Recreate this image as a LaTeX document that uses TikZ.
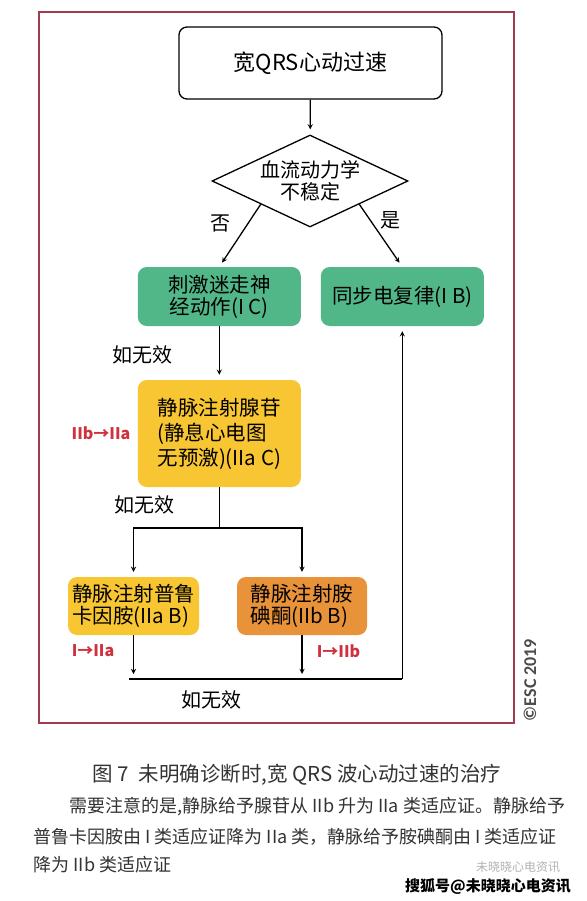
\documentclass[tikz,border=0pt]{standalone}
\usepackage{fontspec}
\setmainfont{Noto Sans CJK SC}
\newfontfamily\escfont{Carlito}
\usetikzlibrary{shapes.geometric, arrows}

\definecolor{vagalgreen}{RGB}{82,183,136}
\definecolor{drugyellow}{RGB}{248,198,50}
\definecolor{drugorange}{RGB}{232,146,58}
\definecolor{classred}{RGB}{208,49,63}
\definecolor{framered}{RGB}{162,59,78}

\begin{document}
\begin{tikzpicture}[x=1pt,y=-1pt]
        \tikzstyle{start} = [rectangle, rounded corners=8pt, minimum width=263pt, minimum height=72pt, text centered, draw=black, line width=1.3pt, font=\fontsize{22}{24}\selectfont];
        \tikzstyle{decision} = [diamond, aspect=2.1, minimum width=196pt, minimum height=92pt, inner sep=0pt, align=center, draw=black, line width=1.3pt, font=\fontsize{20}{22}\selectfont];
        \tikzstyle{vagal} = [rectangle, rounded corners=9pt, minimum width=163pt, minimum height=59pt, inner sep=0pt, align=center, fill=vagalgreen, font=\fontsize{20.5}{22}\selectfont];
        \tikzstyle{drug} = [rectangle, rounded corners=9pt, minimum height=58pt, inner sep=0pt, align=left, fill=drugyellow, font=\fontsize{20.5}{22}\selectfont];
        \tikzstyle{label} = [font=\fontsize{20}{22}\selectfont];
        \tikzstyle{classchange} = [text=classred, font=\bfseries\fontsize{16}{18}\selectfont];
        \tikzstyle{arrow} = [line width=1.3pt,->,>=stealth, shorten >=5pt];
        \tikzstyle{line} = [line width=1.3pt];

        \useasboundingbox (0,0) rectangle (586,901);
        \fill[white] (0,0) rectangle (586,901);
        \draw[framered, line width=1.5pt] (39,12) rectangle (514,723);

        \node(wide) [start] at (310.5,63) {宽QRS心动过速};
        \node(unstable) [decision] at (310,181) {血流动力学\\不稳定};
        \node(vagal) [vagal] at (219.3,296.5) {刺激迷走神\\经动作(I C)};
        \node(cardio) [vagal] at (402.3,296.5) {同步电复律(I B)};
        \node(adeno) [drug, minimum width=163pt, minimum height=107pt, font=\fontsize{20.5}{25}\selectfont] at (219.3,433.5) {静脉注射腺苷\\(静息心电图\\无预激)(IIa C)};
        \node(procain) [drug, minimum width=131pt] at (133.5,606) {静脉注射普鲁\\卡因胺(IIa B)};
        \node(amio) [drug, minimum width=130pt, fill=drugorange] at (302,606) {静脉注射胺\\碘酮(IIb B)};

        \coordinate(split) at (219.3,528);
        \coordinate(joinleft) at (129,679);
        \coordinate(joinright) at (402.3,679);

        \draw[arrow] (wide) -- (unstable);
        \draw[arrow] (unstable.south west) -- (vagal.north);
        \draw[arrow] (unstable.south east) -- (cardio.north);
        \draw[arrow] (vagal) -- (adeno);
        \draw[line] (adeno) -- (split);
        \draw[arrow] (split) -| (procain);
        \draw[arrow] (split) -| (amio);
        \draw[arrow] (procain.south) -- (procain.south |- joinleft);
        \draw[arrow] (amio.south) -- (amio.south |- joinleft);
        \draw[line] (joinleft) -- (joinright);
        \draw[arrow] (joinright) -- (cardio);

        \node(no) [label] at (220,223) {否};
        \node(yes) [label] at (390,220) {是};
        \node(fail1) [label] at (142,355) {如无效};
        \node(fail2) [label] at (144,505) {如无效};
        \node(fail3) [label] at (211,700) {如无效};
        \node(adenoclass) [classchange] at (101,433) {IIb→IIa};
        \node(procainclass) [classchange] at (93,651) {I→IIa};
        \node(amioclass) [classchange] at (338.5,651) {I→IIb};
        \node(esc) [rotate=90, text=black!70, font=\escfont\bfseries\fontsize{18}{20}\selectfont] at (530,680) {©ESC 2019};

        % caption and note below the frame
        \node(caption) [text=black!80, font=\fontsize{20.5}{22}\selectfont] at (297,775) {图 7\ \ 未明确诊断时,宽 QRS 波心动过速的治疗};
        \node(note1) [anchor=west, text=black!80, font=\fontsize{18}{20}\selectfont] at (66,807) {需要注意的是,静脉给予腺苷从 IIb 升为 IIa 类适应证。静脉给予};
        \node(note2) [anchor=west, text=black!80, font=\fontsize{18}{20}\selectfont] at (30,837) {普鲁卡因胺由 I 类适应证降为 IIa 类，静脉给予胺碘酮由 I 类适应证};
        \node(note3) [anchor=west, text=black!80, font=\fontsize{18}{20}\selectfont] at (30,865) {降为 IIb 类适应证};
        \node(mark1) [inner sep=0pt, text=black!30, font=\fontsize{12}{14}\selectfont] at (518,867) {未晓晓心电资讯};
        \node(mark2) [inner sep=0pt, font=\bfseries\fontsize{15}{17}\selectfont] at (488,886) {搜狐号@未晓晓心电资讯};

    \end{tikzpicture}
\end{document}
